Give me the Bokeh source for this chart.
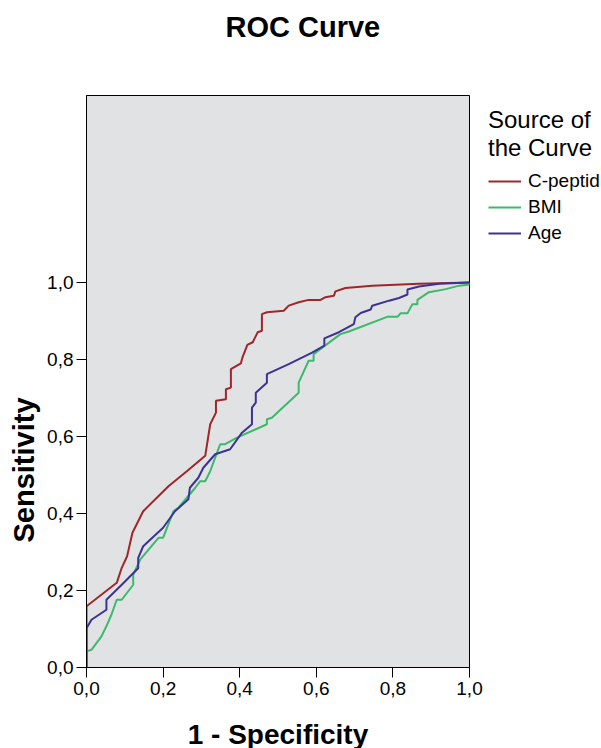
from bokeh.plotting import figure
from bokeh.models import (Range1d, FixedTicker, CustomJSTickFormatter, Legend, LegendItem, Title)
from bokeh.embed import file_html
from bokeh.resources import INLINE

# ---- data ----
cpep_x = [0, 0, 0.079, 0.092, 0.106, 0.12, 0.148, 0.214, 0.262, 0.31, 0.323, 0.338, 0.338, 0.364, 0.364,
          0.377, 0.377, 0.403, 0.407, 0.42, 0.434, 0.438, 0.447, 0.458, 0.458, 0.471, 0.515, 0.528, 0.554,
          0.58, 0.611, 0.624, 0.646, 0.65, 0.676, 0.746, 0.868, 1.0]
cpep_y = [0, 0.159, 0.22, 0.259, 0.289, 0.35, 0.406, 0.471, 0.51, 0.55, 0.632, 0.662, 0.693, 0.697, 0.723,
          0.727, 0.775, 0.79, 0.805, 0.838, 0.845, 0.853, 0.871, 0.875, 0.918, 0.923, 0.927, 0.94, 0.949,
          0.955, 0.955, 0.962, 0.966, 0.977, 0.986, 0.992, 0.997, 1.0]

bmi_x = [0, 0, 0.013, 0.039, 0.052, 0.065, 0.079, 0.092, 0.122, 0.122, 0.14, 0.188, 0.2, 0.227, 0.24, 0.284,
         0.297, 0.31, 0.323, 0.349, 0.362, 0.393, 0.471, 0.471, 0.484, 0.554, 0.554, 0.58, 0.593, 0.593,
         0.663, 0.685, 0.785, 0.812, 0.82, 0.838, 0.851, 0.864, 0.864, 0.894, 0.938, 0.973, 1.0, 1.0]
bmi_y = [0, 0.042, 0.046, 0.081, 0.107, 0.137, 0.176, 0.176, 0.215, 0.241, 0.28, 0.337, 0.337, 0.406, 0.415,
         0.467, 0.484, 0.484, 0.51, 0.58, 0.58, 0.597, 0.632, 0.645, 0.649, 0.714, 0.74, 0.797, 0.797, 0.814,
         0.866, 0.873, 0.911, 0.911, 0.92, 0.92, 0.944, 0.944, 0.955, 0.975, 0.983, 0.992, 0.995, 1.0]

age_x = [0, 0, 0.013, 0.052, 0.052, 0.092, 0.127, 0.135, 0.135, 0.148, 0.2, 0.231, 0.266, 0.27, 0.292, 0.305,
         0.336, 0.375, 0.406, 0.432, 0.432, 0.442, 0.442, 0.471, 0.471, 0.528, 0.589, 0.621, 0.621, 0.659,
         0.698, 0.702, 0.716, 0.742, 0.746, 0.79, 0.816, 0.838, 0.838, 0.868, 0.921, 1.0]
age_y = [0, 0.102, 0.124, 0.15, 0.176, 0.215, 0.25, 0.258, 0.285, 0.315, 0.363, 0.406, 0.437, 0.467, 0.493,
         0.519, 0.554, 0.567, 0.61, 0.632, 0.675, 0.688, 0.714, 0.74, 0.762, 0.788, 0.818, 0.836, 0.855,
         0.871, 0.892, 0.91, 0.921, 0.93, 0.94, 0.953, 0.96, 0.969, 0.982, 0.99, 0.997, 1.0]

series_names = ["C-peptid", "BMI", "Age"]
series_colors = ["#A0262B", "#3DB96B", "#3B3394"]
ticks = [0.0, 0.2, 0.4, 0.6, 0.8, 1.0]

title_text = "ROC Curve"
x_title = "1 - Specificity"
y_title = "Sensitivity"
legend_title = "Source of\nthe Curve"

FONT = "Liberation Sans"

p = figure(frame_width=383, frame_height=572, output_backend="svg", toolbar_location=None,
           x_range=Range1d(0, 1), y_range=Range1d(0, 1.486),
           min_border_left=85, min_border_right=133, min_border_top=95, min_border_bottom=81)
p.title = None
p.background_fill_color = "#E1E2E4"
p.border_fill_color = "white"
p.outline_line_color = "black"
p.outline_line_width = 1
p.xgrid.visible = False
p.ygrid.visible = False

fmt = CustomJSTickFormatter(code="return tick.toFixed(1).replace('.', ',');")
for ax in (p.xaxis[0], p.yaxis[0]):
    ax.ticker = FixedTicker(ticks=ticks)
    ax.formatter = fmt
    ax.axis_line_color = "black"
    ax.major_tick_line_color = "black"
    ax.major_tick_line_width = 1
    ax.major_tick_out = 10
    ax.major_tick_in = 0
    ax.minor_tick_line_color = None
    ax.major_label_text_font = FONT
    ax.major_label_text_font_size = "19px"
    ax.major_label_text_color = "black"
p.xaxis[0].major_label_standoff = 4
p.yaxis[0].major_label_standoff = 3

p.xaxis[0].axis_label = x_title
p.xaxis[0].axis_label_text_font = FONT
p.xaxis[0].axis_label_text_font_size = "28px"
p.xaxis[0].axis_label_text_font_style = "bold"
p.xaxis[0].axis_label_text_color = "black"
p.xaxis[0].axis_label_standoff = 21

# spacer (closest to the frame) then the main title above it
p.add_layout(Title(text=" ", text_font=FONT, text_font_size="32px"), "above")
p.add_layout(Title(text=title_text, align="left", offset=139, text_font=FONT, text_font_size="29px",
                   text_font_style="bold", text_color="black"), "above")

p.add_layout(Title(text=y_title, align="left", offset=125, text_font=FONT, text_font_size="29px",
                   text_font_style="bold", text_color="black"), "left")

renderers = []
for xs, ys, c in zip([cpep_x, bmi_x, age_x], [cpep_y, bmi_y, age_y], series_colors):
    r = p.line(xs, ys, line_color=c, line_width=2)
    renderers.append(r)

legend = Legend(items=[LegendItem(label=n, renderers=[r]) for n, r in zip(series_names, renderers)],
                title=legend_title, title_text_font=FONT, title_text_font_size="24px",
                title_text_font_style="normal", title_text_color="black",
                title_text_line_height=1.0, title_standoff=8,
                location=(19, 423), padding=0, margin=19, spacing=4,
                glyph_width=33, glyph_height=20, label_height=20, label_standoff=7,
                label_text_font=FONT, label_text_font_size="19px", label_text_color="black",
                border_line_color=None, background_fill_alpha=0)
p.add_layout(legend, "right")

open("out.html", "w").write(file_html(p, INLINE))
